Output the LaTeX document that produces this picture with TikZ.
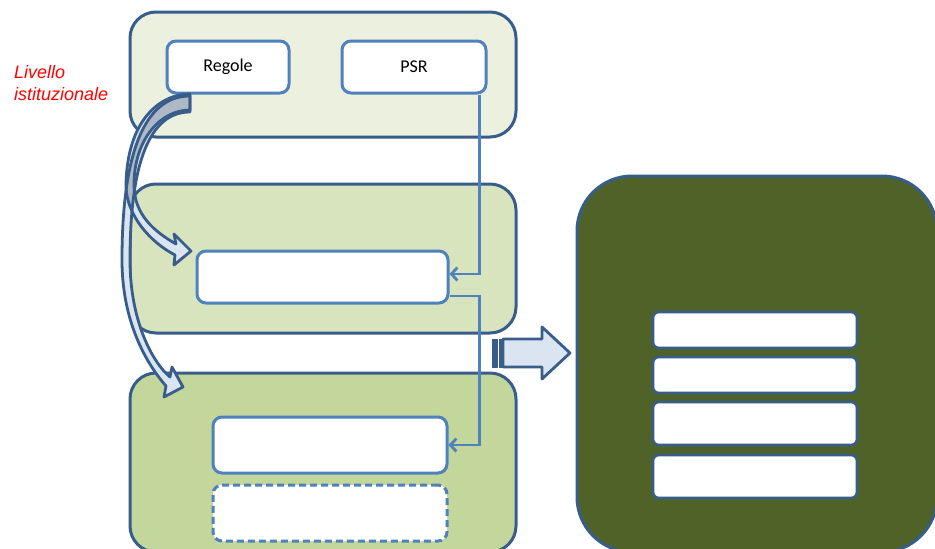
\documentclass[tikz,border=0pt]{standalone}
\usepackage{fontspec}
\setmainfont{Carlito}
\newfontfamily\arialfont{Liberation Sans}
\usetikzlibrary{arrows.meta}
\definecolor{dkblue}{HTML}{385D8A}
\definecolor{medblue}{HTML}{4F81BD}
\definecolor{topfill}{HTML}{EBF1DE}
\definecolor{midfill}{HTML}{D7E4BD}
\definecolor{botfill}{HTML}{C3D69B}
\definecolor{rightfill}{HTML}{4F6228}
\definecolor{arrowfill}{HTML}{DBE5F1}
\definecolor{overlapgray}{HTML}{AFB9C5}
\begin{document}
\begin{tikzpicture}[x=1pt,y=-1pt,
  bigbox/.style={draw=dkblue, line width=3pt, rounded corners=26pt, inner sep=0pt},
  innerbox/.style={draw=medblue, fill=white, line width=3pt, rounded corners=9pt, inner sep=0pt},
  rbox/.style={draw=dkblue, fill=white, line width=2.6pt, rounded corners=6pt, inner sep=0pt, minimum width=204pt},
  conn/.style={draw=medblue, line width=2.8pt, -{Straight Barb[length=6pt,width=13pt]}},
  blockarrow/.style={draw=dkblue, line width=2.8pt, line join=round},
  lbl/.style={font=\fontsize{18}{21}\selectfont, text=black}]
\useasboundingbox (0,0) rectangle (935,549);
\fill[white] (0,0) rectangle (935,549);

% big boxes
\node[bigbox, fill=topfill, minimum width=386pt, minimum height=125pt] (top) at (323,74.5) {};
\node[bigbox, fill=midfill, minimum width=386pt, minimum height=149pt] (mid) at (323,258.5) {};
\node[bigbox, fill=botfill, minimum width=386pt, minimum height=179pt] (bot) at (323,462.5) {};
\node[bigbox, fill=rightfill, rounded corners=55pt, minimum width=360pt, minimum height=376pt] (right) at (757,364) {};

% inner boxes
\node[innerbox, minimum width=122pt, minimum height=52pt, lbl] (regole) at (228,67) {Regole};
\node[innerbox, minimum width=144pt, minimum height=52pt, lbl] (psr) at (414,67) {PSR};
\node[innerbox, minimum width=251pt, minimum height=52pt] (plan) at (322.5,277) {};
\node[innerbox, minimum width=234pt, minimum height=56pt] (op) at (330,445) {};
\node[innerbox, dashed, dash pattern=on 7pt off 4pt, minimum width=234pt, minimum height=56pt] (dash) at (330,513) {};

\node[rbox, minimum height=36pt] (r1) at (755,330) {};
\node[rbox, minimum height=36pt] (r2) at (755,375) {};
\node[rbox, minimum height=43pt] (r3) at (755,423.5) {};
\node[rbox, minimum height=43pt] (r4) at (755,476.5) {};

% label
\node[anchor=north west, inner sep=0pt, align=left, text=red,
      font=\arialfont\itshape\fontsize{18}{22}\selectfont] (liv) at (14,65) {Livello\\istituzionale};

% connectors
\draw[conn] ([xshift=-8pt]psr.south east) |- ([yshift=3pt]plan.east);
\draw[conn] ([yshift=-19pt]plan.east) -- ++(30,0) |- (op.east);

% striped block arrow
\fill[arrowfill] (503,339) -- (542,339) -- (542,327) -- (570,353) -- (542,379) -- (542,367) -- (503,367) -- cycle;
\draw[blockarrow] (503,339) -- (542,339) -- (542,327) -- (570,353) -- (542,379) -- (542,367) -- (503,367) -- cycle;
\draw[blockarrow, fill=dkblue, line width=1pt] (492,339) rectangle (497,367);
\draw[blockarrow, fill=dkblue, line width=1pt] (499,339) rectangle (502,367);

% curved block arrows
\fill[arrowfill] (190,96) .. controls (150,96) and (122,140) .. (122,260) .. controls (122,320) and (145,362) .. (166,386)
  -- (164,397) -- (183,387) -- (172,367) -- (170,377)
  .. controls (152,362) and (130,320) .. (130,260) .. controls (130,150) and (155,112) .. (190,112) -- cycle;
\fill[arrowfill] (190,94) .. controls (160,94) and (127,120) .. (126,185) .. controls (126,215) and (150,242) .. (175,255)
  -- (174,265) -- (191,251) -- (174,234) -- (176,244)
  .. controls (155,232) and (134,215) .. (134,185) .. controls (134,140) and (160,110) .. (190,110) -- cycle;
\begin{scope}
\clip (190,96) .. controls (150,96) and (122,140) .. (122,260) .. controls (122,320) and (145,362) .. (166,386)
  -- (164,397) -- (183,387) -- (172,367) -- (170,377)
  .. controls (152,362) and (130,320) .. (130,260) .. controls (130,150) and (155,112) .. (190,112) -- cycle;
\fill[overlapgray] (190,94) .. controls (160,94) and (127,120) .. (126,185) .. controls (126,215) and (150,242) .. (175,255)
  -- (174,265) -- (191,251) -- (174,234) -- (176,244)
  .. controls (155,232) and (134,215) .. (134,185) .. controls (134,140) and (160,110) .. (190,110) -- cycle;
\end{scope}
\draw[blockarrow] (190,96) .. controls (150,96) and (122,140) .. (122,260) .. controls (122,320) and (145,362) .. (166,386)
  -- (164,397) -- (183,387) -- (172,367) -- (170,377)
  .. controls (152,362) and (130,320) .. (130,260) .. controls (130,150) and (155,112) .. (190,112) -- cycle;
\draw[blockarrow] (190,94) .. controls (160,94) and (127,120) .. (126,185) .. controls (126,215) and (150,242) .. (175,255)
  -- (174,265) -- (191,251) -- (174,234) -- (176,244)
  .. controls (155,232) and (134,215) .. (134,185) .. controls (134,140) and (160,110) .. (190,110) -- cycle;
\end{tikzpicture}
\end{document}
